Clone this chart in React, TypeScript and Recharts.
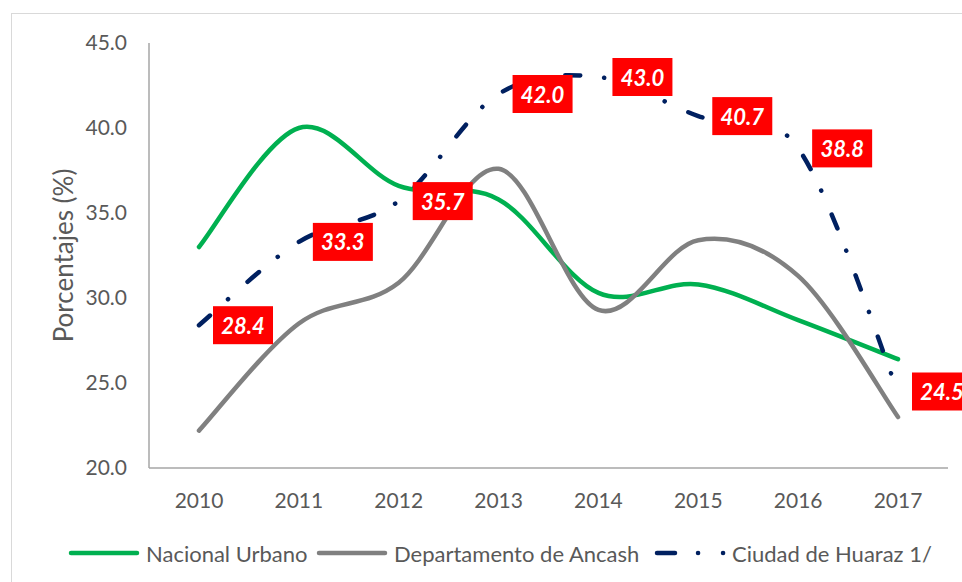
import { Line, LineChart, XAxis, YAxis, LabelList } from "recharts";

const years = ["2010", "2011", "2012", "2013", "2014", "2015", "2016", "2017"];
const nacionalUrbano = [33.0, 40.0, 36.6, 35.8, 30.3, 30.8, 28.7, 26.4];
const ancash = [22.2, 28.5, 30.9, 37.6, 29.3, 33.4, 31.3, 23.0];
const huaraz = [28.4, 33.3, 35.7, 42.0, 43.0, 40.7, 38.8, 24.5];
const yTicks = [20, 25, 30, 35, 40, 45];

const data = years.map((year, i) => ({
  year,
  nacional: nacionalUrbano[i],
  ancash: ancash[i],
  huaraz: huaraz[i],
}));

const FONT = "Lato, 'Open Sans', sans-serif";
const TEXT = "#595959";
const AXIS = "#a6a6a6";

// smoothing like Excel's (Catmull-Rom with 1/6 control points)
const excelSmooth = (context: any) => {
  let pts: number[][] = [];
  return {
    areaStart() {},
    areaEnd() {},
    lineStart() {
      pts = [];
    },
    lineEnd() {
      const n = pts.length;
      if (!n) return;
      context.moveTo(pts[0][0], pts[0][1]);
      for (let i = 0; i < n - 1; i++) {
        const p0 = pts[Math.max(i - 1, 0)];
        const p1 = pts[i];
        const p2 = pts[i + 1];
        const p3 = pts[Math.min(i + 2, n - 1)];
        context.bezierCurveTo(
          p1[0] + (p2[0] - p0[0]) / 6,
          p1[1] + (p2[1] - p0[1]) / 6,
          p2[0] - (p3[0] - p1[0]) / 6,
          p2[1] - (p3[1] - p1[1]) / 6,
          p2[0],
          p2[1]
        );
      }
    },
    point(x: number, y: number) {
      pts.push([+x, +y]);
    },
  };
};

const HuarazLabel = (props: any) => {
  const { x, y, value } = props;
  return (
    <g>
      <rect x={x + 14} y={y - 19} width={60} height={38} fill="#ff0000" />
      <text
        x={x + 44}
        y={y}
        textAnchor="middle"
        dominantBaseline="central"
        fill="#ffffff"
        fontWeight="bold"
        fontStyle="italic"
        fontSize={22}
        fontFamily={FONT}
      >
        {Number(value).toFixed(1)}
      </text>
    </g>
  );
};

const YLabel = (props: any) => {
  const { viewBox } = props;
  const cy = viewBox.y + viewBox.height / 2;
  return (
    <text
      x={63}
      y={cy}
      transform={`rotate(-90, 63, ${cy})`}
      textAnchor="middle"
      dominantBaseline="central"
      fill={TEXT}
      fontSize={26}
      fontFamily={FONT}
    >
      Porcentajes (%)
    </text>
  );
};

const legendItems = [
  { name: "Nacional Urbano", color: "#00b050", left: 68, dashed: false },
  { name: "Departamento de Ancash", color: "#808080", left: 316, dashed: false },
  { name: "Ciudad de Huaraz 1/", color: "#002060", left: 654, dashed: true },
];

const App = () => {
  return (
    <div
      style={{
        position: "absolute",
        left: 0,
        top: 0,
        width: 962,
        height: 582,
        overflow: "hidden",
        background: "#fff",
        fontFamily: FONT,
      }}
    >
      <div
        style={{
          position: "absolute",
          left: 11,
          top: 13,
          width: 1000,
          height: 620,
          border: "1px solid #d9d9d9",
        }}
      />
      <div style={{ position: "absolute", left: 0, top: 0 }}>
        <LineChart
          width={962}
          height={582}
          data={data}
          margin={{ top: 43, right: 14, bottom: 54, left: 0 }}
        >
          <XAxis
            dataKey="year"
            height={60}
            padding={{ left: 50, right: 50 }}
            tickLine={false}
            axisLine={{ stroke: AXIS, strokeWidth: 1.5 }}
            tick={{ fill: TEXT, fontSize: 21, fontFamily: FONT }}
            tickMargin={19}
          />
          <YAxis
            width={149}
            domain={[20, 45]}
            ticks={yTicks}
            tickFormatter={(v: number) => v.toFixed(1)}
            tickLine={false}
            axisLine={{ stroke: AXIS, strokeWidth: 1.5 }}
            tick={{ fill: TEXT, fontSize: 21, fontFamily: FONT }}
            tickMargin={16}
            label={<YLabel />}
          />
          <Line
            dataKey="nacional"
            name="Nacional Urbano"
            type={excelSmooth as any}
            stroke="#00b050"
            strokeWidth={4.5}
            strokeLinecap="round"
            dot={false}
            activeDot={false}
            isAnimationActive={false}
          />
          <Line
            dataKey="ancash"
            name="Departamento de Ancash"
            type={excelSmooth as any}
            stroke="#808080"
            strokeWidth={4.5}
            strokeLinecap="round"
            dot={false}
            activeDot={false}
            isAnimationActive={false}
          />
          <Line
            dataKey="huaraz"
            name="Ciudad de Huaraz 1/"
            type={excelSmooth as any}
            stroke="#002060"
            strokeWidth={4.5}
            strokeLinecap="round"
            strokeDasharray="15 24 0.1 26"
            dot={false}
            activeDot={false}
            isAnimationActive={false}
          >
            <LabelList dataKey="huaraz" content={<HuarazLabel />} />
          </Line>
        </LineChart>
      </div>
      {legendItems.map((item) => (
        <div
          key={item.name}
          style={{
            position: "absolute",
            left: item.left,
            top: 539,
            height: 28,
            display: "flex",
            alignItems: "center",
            color: TEXT,
            fontSize: 22,
            whiteSpace: "nowrap",
          }}
        >
          <svg width={74} height={10} style={{ marginRight: 4 }}>
            {item.dashed ? (
              <g stroke={item.color} strokeWidth={4.5} strokeLinecap="round">
                <line x1={3} y1={5} x2={21} y2={5} />
                <line x1={44} y1={5} x2={44.1} y2={5} />
                <line x1={69} y1={5} x2={69.1} y2={5} />
              </g>
            ) : (
              <line
                x1={3}
                y1={5}
                x2={69}
                y2={5}
                stroke={item.color}
                strokeWidth={4.5}
                strokeLinecap="round"
              />
            )}
          </svg>
          <span>{item.name}</span>
        </div>
      ))}
    </div>
  );
};

export default App;
